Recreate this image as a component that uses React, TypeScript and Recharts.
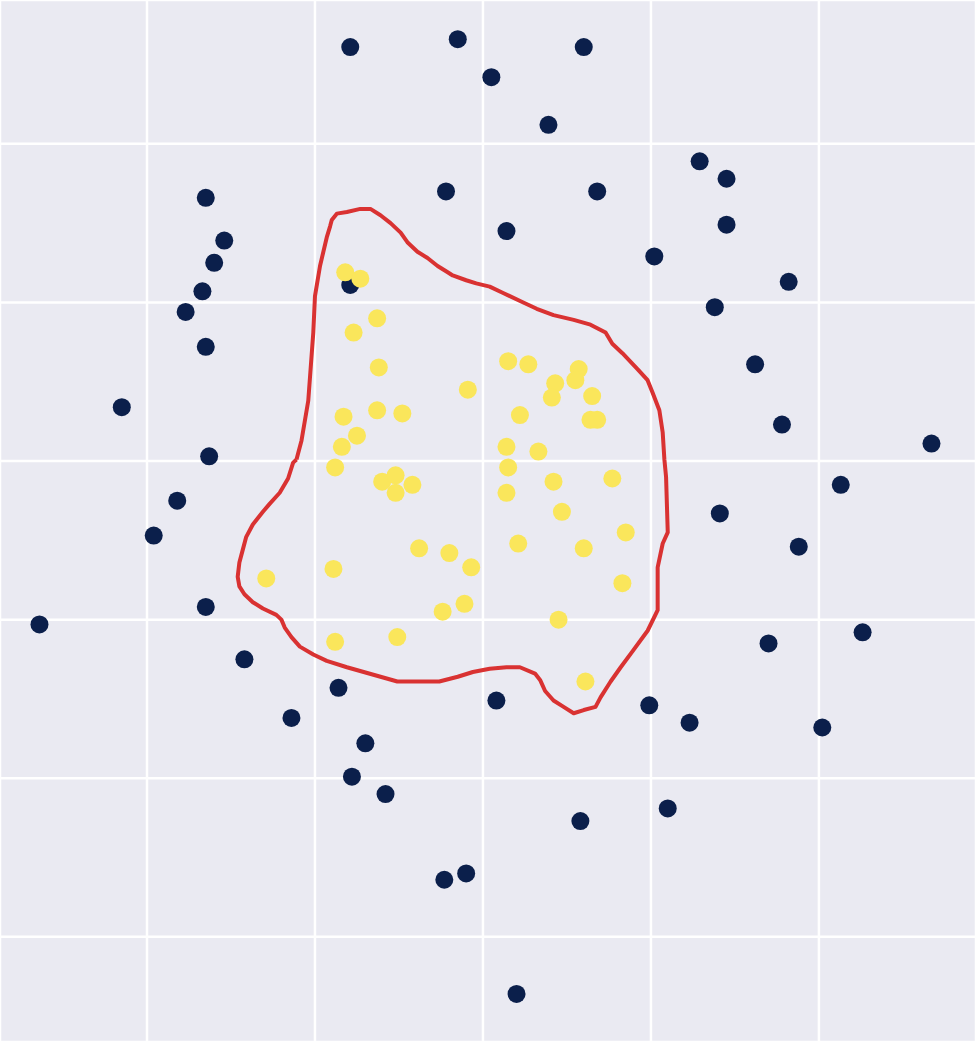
import { ScatterChart, Scatter, XAxis, YAxis, CartesianGrid } from 'recharts';

// outer points (dark class)
const outerX = [-0.79, -0.15, 0.6, 0.05, 0.39, 1.29, 1.45, -1.65, -0.22, 0.68, 1.45, -1.54, 0.14, -1.6, 1.02, -1.67, 1.82, -1.77, -0.79, 1.38, -1.65, 1.62, -2.15, 1.78, 2.67, -1.63, 2.13, -1.82, 1.41, -1.96, 1.88, -1.65, -2.64, 2.26, 1.7, -1.42, -0.86, 0.08, 0.99, 1.23, -1.14, 2.02, -0.7, -0.78, -0.58, 1.1, 0.58, -0.23, -0.1, 0.2];
const outerY = [2.61, 2.66, 2.61, 2.42, 2.12, 1.89, 1.78, 1.66, 1.7, 1.7, 1.49, 1.39, 1.45, 1.25, 1.29, 1.07, 1.13, 0.94, 1.11, 0.97, 0.72, 0.61, 0.34, 0.23, 0.11, 0.03, -0.15, -0.25, -0.33, -0.47, -0.54, -0.92, -1.03, -1.08, -1.15, -1.25, -1.43, -1.51, -1.54, -1.65, -1.62, -1.68, -1.78, -1.99, -2.1, -2.19, -2.27, -2.64, -2.6, -3.36];

// inner points (yellow class)
const innerX = [-0.82, -0.73, -0.63, -0.77, 0.15, 0.27, 0.57, 0.55, 0.43, -0.62, -0.09, 0.41, 0.65, -0.83, -0.63, -0.48, 0.22, 0.64, 0.68, -0.75, -0.84, 0.14, 0.33, -0.88, 0.15, -0.6, -0.52, -0.52, -0.42, 0.42, 0.77, 0.14, 0.47, 0.85, 0.21, 0.6, -0.38, -0.2, -0.07, -0.89, -1.29, 0.83, -0.11, -0.24, 0.45, -0.88, -0.51, 0.61];
const innerY = [1.19, 1.15, 0.9, 0.81, 0.63, 0.61, 0.58, 0.51, 0.49, 0.59, 0.45, 0.4, 0.41, 0.28, 0.32, 0.3, 0.29, 0.26, 0.26, 0.16, 0.09, 0.09, 0.06, -0.04, -0.04, -0.13, -0.09, -0.2, -0.15, -0.13, -0.11, -0.2, -0.32, -0.45, -0.52, -0.55, -0.55, -0.58, -0.67, -0.68, -0.74, -0.77, -0.9, -0.95, -1.0, -1.14, -1.11, -1.39];

// hand drawn decision boundary
const boundaryX = [-1.11, -1.08, -1.04, -1.01, -1.0, -0.97, -0.93, -0.91, -0.9, -0.87, -0.81, -0.73, -0.67, -0.61, -0.55, -0.49, -0.45, -0.39, -0.33, -0.27, -0.21, -0.18, -0.1, -0.04, 0.04, 0.12, 0.24, 0.32, 0.42, 0.54, 0.64, 0.73, 0.77, 0.83, 0.92, 0.98, 1.01, 1.05, 1.07, 1.08, 1.09, 1.1, 1.07, 1.04, 1.04, 1.04, 0.98, 0.89, 0.82, 0.76, 0.7, 0.67, 0.6, 0.54, 0.48, 0.42, 0.37, 0.34, 0.31, 0.22, 0.14, 0.04, -0.06, -0.15, -0.26, -0.32, -0.42, -0.51, -0.61, -0.71, -0.81, -0.93, -1.01, -1.09, -1.14, -1.18, -1.2, -1.23, -1.31, -1.37, -1.42, -1.45, -1.46, -1.45, -1.43, -1.41, -1.37, -1.31, -1.27, -1.21, -1.16, -1.13, -1.11];
const boundaryY = [0.01, 0.13, 0.38, 0.81, 1.04, 1.23, 1.41, 1.48, 1.52, 1.56, 1.57, 1.59, 1.59, 1.55, 1.5, 1.44, 1.38, 1.32, 1.28, 1.23, 1.19, 1.17, 1.14, 1.12, 1.1, 1.06, 1.0, 0.96, 0.92, 0.89, 0.86, 0.81, 0.74, 0.68, 0.58, 0.51, 0.43, 0.32, 0.18, 0.01, -0.1, -0.45, -0.52, -0.67, -0.81, -0.94, -1.07, -1.2, -1.3, -1.39, -1.49, -1.55, -1.57, -1.59, -1.55, -1.51, -1.45, -1.38, -1.34, -1.3, -1.3, -1.31, -1.33, -1.36, -1.39, -1.39, -1.39, -1.39, -1.36, -1.33, -1.3, -1.26, -1.22, -1.17, -1.11, -1.05, -1.0, -0.97, -0.93, -0.89, -0.84, -0.79, -0.73, -0.64, -0.56, -0.48, -0.4, -0.32, -0.27, -0.2, -0.11, -0.01, 0.01];

const xTicks = [-2, -1, 0, 1, 2];
const yTicks = [-3, -2, -1, 0, 1, 2];

const outer = outerX.map((x, i) => ({ x, y: outerY[i] }));
const inner = innerX.map((x, i) => ({ x, y: innerY[i] }));
const boundary = boundaryX.map((x, i) => ({ x, y: boundaryY[i] }));

const Dot = (color: string) => (props: any) => (
  <circle cx={props.cx} cy={props.cy} r={9} fill={color} />
);

export default function App() {
  return (
    <div style={{ width: 976, height: 1042, background: '#EAEAF2' }}>
      <style>{'body{margin:0}'}</style>
      <ScatterChart width={976} height={1042} margin={{ top: 0, right: 0, bottom: 0, left: 0 }}>
        <CartesianGrid fill="#EAEAF2" stroke="#ffffff" strokeWidth={2.5} />
        <XAxis type="number" dataKey="x" domain={[-2.875, 2.935]} ticks={xTicks} allowDataOverflow hide />
        <YAxis type="number" dataKey="y" domain={[-3.663, 2.907]} ticks={yTicks} allowDataOverflow hide />
        <Scatter data={outer} shape={Dot('#0b1f4b')} isAnimationActive={false} />
        <Scatter data={inner} shape={Dot('#fae65b')} isAnimationActive={false} />
        <Scatter
          data={boundary}
          line={{ stroke: '#d93232', strokeWidth: 4, strokeLinejoin: 'round' } as any}
          shape={() => <g />}
          isAnimationActive={false}
        />
      </ScatterChart>
    </div>
  );
}
